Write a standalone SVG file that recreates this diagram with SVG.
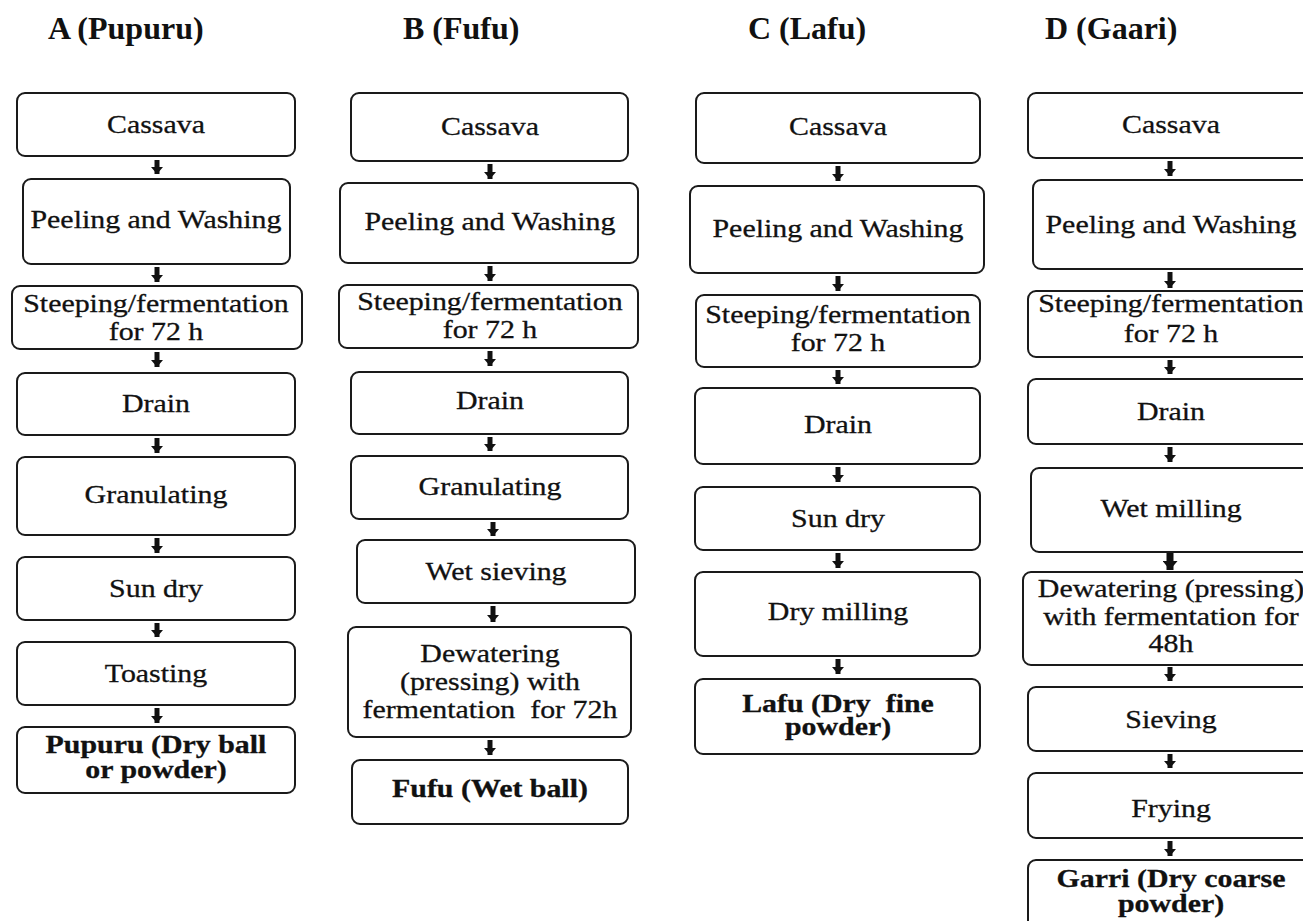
<svg xmlns="http://www.w3.org/2000/svg" width="1303" height="921" viewBox="0 0 1303 921">
<style>
.box{fill:#fff;stroke:#1a1a1a;stroke-width:2}
.t{font-family:"Liberation Serif","Times New Roman",serif;font-size:26px;fill:#111;text-anchor:middle;stroke:#111;stroke-width:0.3}
.b{font-weight:bold}
.h{font-family:"Liberation Serif","Times New Roman",serif;font-size:32px;font-weight:bold;fill:#111}
.c{stroke:#111;stroke-width:5;fill:none;marker-end:url(#ah)}
.cb{stroke:#111;stroke-width:7;fill:none;marker-end:url(#ahb)}
</style>
<defs>
<marker id="ah" markerUnits="userSpaceOnUse" markerWidth="7" markerHeight="12" refX="7" refY="6" orient="auto"><path d="M0,0 L7,6 L0,12 z" fill="#111"/></marker>
<marker id="ahb" markerUnits="userSpaceOnUse" markerWidth="9" markerHeight="15" refX="9" refY="7.5" orient="auto"><path d="M0,0 L9,7.5 L0,15 z" fill="#111"/></marker>
</defs>
<rect width="1303" height="921" fill="#fff"/>
<g id="headers">
<text class="h" x="48" y="39">A (Pupuru)</text>
<text class="h" x="403" y="39">B (Fufu)</text>
<text class="h" x="748" y="39">C (Lafu)</text>
<text class="h" x="1045" y="39">D (Gaari)</text>
</g>
<g id="connectors">
<line class="c" x1="157" y1="160" x2="157" y2="174"/>
<line class="c" x1="157" y1="267" x2="157" y2="282"/>
<line class="c" x1="157" y1="352" x2="157" y2="367"/>
<line class="c" x1="157" y1="438" x2="157" y2="453"/>
<line class="c" x1="157" y1="538" x2="157" y2="553"/>
<line class="c" x1="157" y1="623" x2="157" y2="637"/>
<line class="c" x1="157" y1="708" x2="157" y2="723"/>
<line class="c" x1="490" y1="164" x2="490" y2="179"/>
<line class="c" x1="490" y1="266" x2="490" y2="281"/>
<line class="c" x1="490" y1="351" x2="490" y2="366"/>
<line class="c" x1="490" y1="437" x2="490" y2="451"/>
<line class="c" x1="493" y1="522" x2="493" y2="536"/>
<line class="c" x1="493" y1="606" x2="493" y2="622"/>
<line class="c" x1="490" y1="740" x2="490" y2="755"/>
<line class="c" x1="838" y1="166" x2="838" y2="181"/>
<line class="c" x1="838" y1="276" x2="838" y2="291"/>
<line class="c" x1="838" y1="370" x2="838" y2="384"/>
<line class="c" x1="838" y1="467" x2="838" y2="482"/>
<line class="c" x1="838" y1="553" x2="838" y2="568"/>
<line class="c" x1="838" y1="659" x2="838" y2="674"/>
<line class="c" x1="1170" y1="161" x2="1170" y2="176"/>
<line class="c" x1="1170" y1="272" x2="1170" y2="288"/>
<line class="c" x1="1170" y1="360" x2="1170" y2="374"/>
<line class="c" x1="1170" y1="447" x2="1170" y2="462"/>
<line class="cb" x1="1170" y1="553" x2="1170" y2="570"/>
<line class="c" x1="1170" y1="667" x2="1170" y2="681"/>
<line class="c" x1="1170" y1="754" x2="1170" y2="768"/>
<line class="c" x1="1170" y1="841" x2="1170" y2="856"/>
</g>
<g id="A-cassava"><rect class="box" x="17" y="93" width="278" height="63" rx="8"/><text class="t" x="156" y="133" transform="matrix(1.15 0 0 1 -23.4 0)">Cassava</text></g>
<g id="A-peeling"><rect class="box" x="23" y="179" width="267" height="85" rx="8"/><text class="t" x="156" y="228" transform="matrix(1.15 0 0 1 -23.4 0)">Peeling and Washing</text></g>
<g id="A-steeping"><rect class="box" x="12" y="286" width="290" height="63" rx="8"/><text class="t" x="156" y="312" transform="matrix(1.15 0 0 1 -23.4 0)">Steeping/fermentation</text><text class="t" x="156" y="340" transform="matrix(1.15 0 0 1 -23.4 0)">for 72 h</text></g>
<g id="A-drain"><rect class="box" x="17" y="373" width="278" height="62" rx="8"/><text class="t" x="156" y="412" transform="matrix(1.15 0 0 1 -23.4 0)">Drain</text></g>
<g id="A-granulating"><rect class="box" x="17" y="457" width="278" height="78" rx="8"/><text class="t" x="156" y="503" transform="matrix(1.15 0 0 1 -23.4 0)">Granulating</text></g>
<g id="A-sundry"><rect class="box" x="17" y="557" width="278" height="63" rx="8"/><text class="t" x="156" y="597" transform="matrix(1.15 0 0 1 -23.4 0)">Sun dry</text></g>
<g id="A-toasting"><rect class="box" x="17" y="642" width="278" height="63" rx="8"/><text class="t" x="156" y="682" transform="matrix(1.15 0 0 1 -23.4 0)">Toasting</text></g>
<g id="A-pupuru"><rect class="box" x="17" y="727" width="278" height="66" rx="8"/><text class="t b" x="156" y="753" transform="matrix(1.15 0 0 1 -23.4 0)">Pupuru (Dry ball</text><text class="t b" x="156" y="778" transform="matrix(1.15 0 0 1 -23.4 0)">or powder)</text></g>
<g id="B-cassava"><rect class="box" x="351" y="93" width="277" height="68" rx="8"/><text class="t" x="490" y="135" transform="matrix(1.15 0 0 1 -73.5 0)">Cassava</text></g>
<g id="B-peeling"><rect class="box" x="340" y="183" width="298" height="80" rx="8"/><text class="t" x="490" y="230" transform="matrix(1.15 0 0 1 -73.5 0)">Peeling and Washing</text></g>
<g id="B-steeping"><rect class="box" x="339" y="285" width="299" height="63" rx="8"/><text class="t" x="490" y="310" transform="matrix(1.15 0 0 1 -73.5 0)">Steeping/fermentation</text><text class="t" x="490" y="338" transform="matrix(1.15 0 0 1 -73.5 0)">for 72 h</text></g>
<g id="B-drain"><rect class="box" x="351" y="372" width="277" height="62" rx="8"/><text class="t" x="490" y="409" transform="matrix(1.15 0 0 1 -73.5 0)">Drain</text></g>
<g id="B-granulating"><rect class="box" x="351" y="456" width="277" height="63" rx="8"/><text class="t" x="490" y="495" transform="matrix(1.15 0 0 1 -73.5 0)">Granulating</text></g>
<g id="B-wetsieving"><rect class="box" x="357" y="540" width="278" height="63" rx="8"/><text class="t" x="496" y="580" transform="matrix(1.15 0 0 1 -74.4 0)">Wet sieving</text></g>
<g id="B-dewatering"><rect class="box" x="348" y="627" width="283" height="110" rx="8"/><text class="t" x="490" y="662" transform="matrix(1.15 0 0 1 -73.5 0)">Dewatering</text><text class="t" x="490" y="690" transform="matrix(1.15 0 0 1 -73.5 0)">(pressing) with</text><text class="t" x="490" y="718" transform="matrix(1.15 0 0 1 -73.5 0)" xml:space="preserve">fermentation  for 72h</text></g>
<g id="B-fufu"><rect class="box" x="352" y="760" width="276" height="64" rx="8"/><text class="t b" x="490" y="797" transform="matrix(1.15 0 0 1 -73.5 0)">Fufu (Wet ball)</text></g>
<g id="C-cassava"><rect class="box" x="696" y="93" width="284" height="70" rx="8"/><text class="t" x="838" y="135" transform="matrix(1.15 0 0 1 -125.7 0)">Cassava</text></g>
<g id="C-peeling"><rect class="box" x="690" y="186" width="294" height="87" rx="8"/><text class="t" x="838" y="237" transform="matrix(1.15 0 0 1 -125.7 0)">Peeling and Washing</text></g>
<g id="C-steeping"><rect class="box" x="696" y="295" width="284" height="72" rx="8"/><text class="t" x="838" y="323" transform="matrix(1.15 0 0 1 -125.7 0)">Steeping/fermentation</text><text class="t" x="838" y="351" transform="matrix(1.15 0 0 1 -125.7 0)">for 72 h</text></g>
<g id="C-drain"><rect class="box" x="695" y="388" width="285" height="76" rx="8"/><text class="t" x="838" y="433" transform="matrix(1.15 0 0 1 -125.7 0)">Drain</text></g>
<g id="C-sundry"><rect class="box" x="695" y="487" width="285" height="63" rx="8"/><text class="t" x="838" y="527" transform="matrix(1.15 0 0 1 -125.7 0)">Sun dry</text></g>
<g id="C-drymilling"><rect class="box" x="695" y="572" width="285" height="84" rx="8"/><text class="t" x="838" y="620" transform="matrix(1.15 0 0 1 -125.7 0)">Dry milling</text></g>
<g id="C-lafu"><rect class="box" x="695" y="679" width="285" height="75" rx="8"/><text class="t b" x="838" y="712" transform="matrix(1.15 0 0 1 -125.7 0)" xml:space="preserve">Lafu (Dry  fine</text><text class="t b" x="838" y="735" transform="matrix(1.15 0 0 1 -125.7 0)">powder)</text></g>
<g id="D-cassava"><rect class="box" x="1028" y="93" width="290" height="65" rx="8"/><text class="t" x="1171" y="133" transform="matrix(1.15 0 0 1 -175.65 0)">Cassava</text></g>
<g id="D-peeling"><rect class="box" x="1033" y="180" width="285" height="89" rx="8"/><text class="t" x="1171" y="233" transform="matrix(1.15 0 0 1 -175.65 0)">Peeling and Washing</text></g>
<g id="D-steeping"><rect class="box" x="1028" y="291" width="290" height="66" rx="8"/><text class="t" x="1171" y="312" transform="matrix(1.15 0 0 1 -175.65 0)">Steeping/fermentation</text><text class="t" x="1171" y="342" transform="matrix(1.15 0 0 1 -175.65 0)">for 72 h</text></g>
<g id="D-drain"><rect class="box" x="1028" y="379" width="290" height="65" rx="8"/><text class="t" x="1171" y="420" transform="matrix(1.15 0 0 1 -175.65 0)">Drain</text></g>
<g id="D-wetmilling"><rect class="box" x="1031" y="468" width="287" height="84" rx="8"/><text class="t" x="1171" y="517" transform="matrix(1.15 0 0 1 -175.65 0)">Wet milling</text></g>
<g id="D-dewatering"><rect class="box" x="1023" y="572" width="295" height="93" rx="8"/><text class="t" x="1171" y="597" transform="matrix(1.15 0 0 1 -175.65 0)">Dewatering (pressing)</text><text class="t" x="1171" y="625" transform="matrix(1.15 0 0 1 -175.65 0)">with fermentation for</text><text class="t" x="1171" y="652" transform="matrix(1.15 0 0 1 -175.65 0)">48h</text></g>
<g id="D-sieving"><rect class="box" x="1028" y="687" width="290" height="64" rx="8"/><text class="t" x="1171" y="728" transform="matrix(1.15 0 0 1 -175.65 0)">Sieving</text></g>
<g id="D-frying"><rect class="box" x="1028" y="773" width="290" height="65" rx="8"/><text class="t" x="1171" y="817" transform="matrix(1.15 0 0 1 -175.65 0)">Frying</text></g>
<g id="D-garri"><rect class="box" x="1028" y="860" width="290" height="75" rx="8"/><text class="t b" x="1171" y="887" transform="matrix(1.15 0 0 1 -175.65 0)">Garri (Dry coarse</text><text class="t b" x="1171" y="912" transform="matrix(1.15 0 0 1 -175.65 0)">powder)</text></g>
</svg>
